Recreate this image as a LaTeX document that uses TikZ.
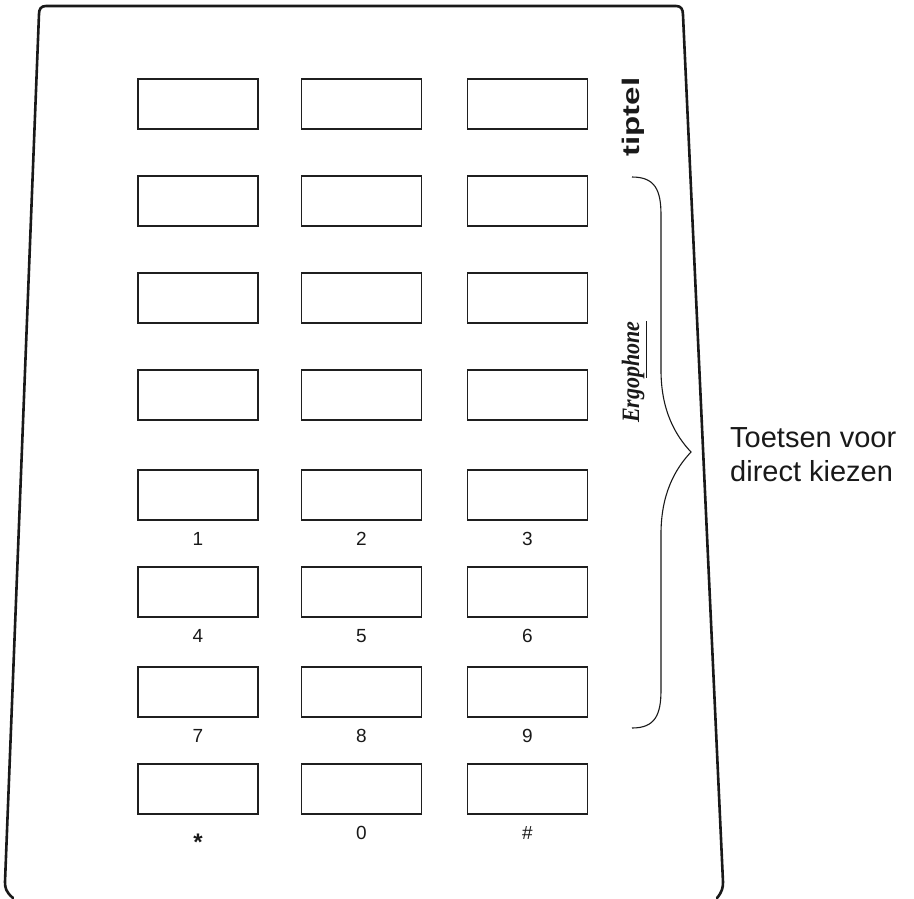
\documentclass[tikz,border=0pt]{standalone}
\usepackage{graphicx}
\usepackage{fontspec}
\setmainfont{Liberation Sans}
\newfontfamily\serifit{Liberation Serif}
\begin{document}
\begin{tikzpicture}[x=1pt,y=-1pt,
  key/.style={draw=black!88, line width=1.6pt, minimum width=120pt, minimum height=50pt, inner sep=0pt},
  lab/.style={font=\fontsize{19}{19}\selectfont, anchor=base, inner sep=0pt, text=black!90},
  shell/.style={draw=black!90, line width=2.6pt, line cap=round, line join=round},
  bracestyle/.style={draw=black!90, line width=1.1pt},
  bigtext/.style={font=\fontsize{29}{29}\selectfont, anchor=base west, inner sep=0pt, text=black!90}]
\useasboundingbox (0,0) rectangle (914,898);
% housing outline
\draw[shell] (13,898) .. controls (6,892) and (5,888) .. (5,882)
  -- (39,14) .. controls (39,9) and (41,6) .. (46,6)
  -- (676,6) .. controls (681,6) and (683,9) .. (683,15)
  -- (723,882) .. controls (723,888) and (722,892) .. (717,898);
% keys
\foreach \r/\y in {1/104,2/201,3/298,4/395,5/495,6/592,7/692,8/789}{
  \foreach \c/\x in {1/198,2/361.5,3/527.5}{
    \node[key] (k\r\c) at (\x,\y) {};
  }
}
% key labels
\node[lab] (n1) at ([yshift=-25pt]k51.south) {1};
\node[lab] (n2) at ([yshift=-25pt]k52.south) {2};
\node[lab] (n3) at ([yshift=-25pt]k53.south) {3};
\node[lab] (n4) at ([yshift=-25pt]k61.south) {4};
\node[lab] (n5) at ([yshift=-25pt]k62.south) {5};
\node[lab] (n6) at ([yshift=-25pt]k63.south) {6};
\node[lab] (n7) at ([yshift=-25pt]k71.south) {7};
\node[lab] (n8) at ([yshift=-25pt]k72.south) {8};
\node[lab] (n9) at ([yshift=-25pt]k73.south) {9};
\node[lab, font=\bfseries\fontsize{24}{24}\selectfont] (nstar) at ([yshift=-36pt]k81.south) {*};
\node[lab] (n0) at ([yshift=-25pt]k82.south) {0};
\node[lab] (nhash) at ([yshift=-25pt]k83.south) {\#};
% logos
\node[rotate=90, inner sep=0pt, font=\bfseries\fontsize{24}{24}\selectfont, text=black!90] (logo) at (633,117) {\scalebox{1.38}[1]{tiptel}};
\node[rotate=90, inner sep=0pt, font=\serifit\bfseries\itshape\fontsize{25}{25}\selectfont, text=black!90] (ergo) at (634,372) {\scalebox{0.88}[1]{Ergo\underline{phone}}};
% brace
\coordinate (btop) at (632,177);
\coordinate (btip) at (691,452);
\coordinate (bbot) at (632,728);
\draw[bracestyle] (btop) .. controls (655,177) and (661,190) .. (661,215)
  -- (661,370) .. controls (661,410) and (675,435) .. (btip)
  .. controls (675,469) and (661,494) .. (661,534)
  -- (661,690) .. controls (661,715) and (655,728) .. (bbot);
% caption
\node[bigtext] (t1) at (730,447) {Toetsen voor};
\node[bigtext] (t2) at (730,481) {direct kiezen};
\end{tikzpicture}
\end{document}
